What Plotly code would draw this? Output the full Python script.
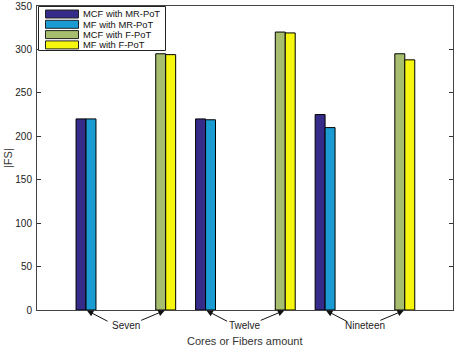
import plotly.graph_objects as go

groups = ["Seven", "Twelve", "Nineteen"]
mr_pos = [1, 4, 7]
f_pos = [3, 6, 9]
label_pos = [2, 5, 8]

mcf_mr = [220, 220, 225]
mf_mr = [220, 219, 210]
mcf_f = [295, 320, 295]
mf_f = [294, 319, 288]

series_names = ["MCF with MR-PoT", "MF with MR-PoT", "MCF with F-PoT", "MF with F-PoT"]
colors = ["#342C88", "#1A9CD3", "#A6BE6E", "#F6F60E"]
yticks = [0, 50, 100, 150, 200, 250, 300, 350]

W = 0.25
fig = go.Figure()
specs = [
    (mr_pos, mcf_mr, -W),
    (mr_pos, mf_mr, 0),
    (f_pos, mcf_f, -W),
    (f_pos, mf_f, 0),
]
for (xs, ys, off), name, c in zip(specs, series_names, colors):
    fig.add_trace(go.Bar(
        x=xs, y=ys, name=name, width=W, offset=off, showlegend=False,
        marker=dict(color=c, line=dict(color="black", width=1)),
    ))

font = "Liberation Sans, Arial, sans-serif"
L, R, T, B = 37, 2, 6, 37
FW, FH = 455, 347
PW, PH = FW - L - R, FH - T - B

def px(xp):
    return (xp - L) / PW

def py(yp):
    return (FH - B - yp) / PH

annos = []
for g, xm, xl, xr in zip(groups, mr_pos, label_pos, f_pos):
    annos.append(dict(x=xl, y=0, xref="x", yref="y", text=g, showarrow=False,
                      yanchor="middle", yshift=-15,
                      font=dict(size=10, color="#222", family=font)))
    annos.append(dict(x=xm, y=0, xref="x", yref="y", ax=23, ay=12,
                      text="", showarrow=True, standoff=1,
                      arrowhead=2, arrowsize=1.3, arrowwidth=1, arrowcolor="#111"))
    annos.append(dict(x=xr, y=0, xref="x", yref="y", ax=-26, ay=11,
                      text="", showarrow=True, standoff=1,
                      arrowhead=2, arrowsize=1.3, arrowwidth=1, arrowcolor="#111"))

# axis titles
annos.append(dict(x=0.5, y=0, xref="paper", yref="paper", yanchor="middle",
                  yshift=-(341 - (FH - B)), text="Cores or Fibers amount",
                  showarrow=False, font=dict(size=11, color="#333", family=font)))
annos.append(dict(x=0, y=0.5, xref="paper", yref="paper", xanchor="center",
                  xshift=-(L - 8), text="|FS|", textangle=-90,
                  showarrow=False, font=dict(size=11, color="#333", family=font)))

# manual legend
shapes = [dict(type="rect", xref="paper", yref="paper",
               x0=px(38.5), x1=px(165.5), y0=py(50.5), y1=py(6.5),
               line=dict(color="#222", width=1), fillcolor="white", layer="above")]
row_y = [14, 24.3, 34.6, 44.9]
for name, c, yc in zip(series_names, colors, row_y):
    shapes.append(dict(type="rect", xref="paper", yref="paper",
                       x0=px(45.5), x1=px(78.5), y0=py(yc + 4), y1=py(yc - 4),
                       line=dict(color="#222", width=1), fillcolor=c, layer="above"))
    annos.append(dict(x=px(81), y=py(yc), xref="paper", yref="paper",
                      xanchor="left", yanchor="middle", text=name, showarrow=False,
                      font=dict(size=9.4, color="#111", family=font)))

fig.update_layout(
    width=FW, height=FH,
    margin=dict(l=L, r=R, t=T, b=B),
    paper_bgcolor="white", plot_bgcolor="white",
    font=dict(family=font, size=10, color="#222"),
    barmode="overlay",
    showlegend=False,
    annotations=annos,
    shapes=shapes,
    xaxis=dict(range=[-0.23, 10.21], showticklabels=False, ticks="",
               showline=True, mirror=True, linecolor="#444", linewidth=1,
               showgrid=False, zeroline=False, automargin=False),
    yaxis=dict(range=[0, 350], tickvals=yticks, ticks="inside", ticklen=4,
               tickcolor="#333", mirror="ticks", showline=True, linecolor="#444",
               linewidth=1, showgrid=False, zeroline=False, automargin=False,
               ticklabeloverflow="allow",
               tickfont=dict(size=10, family=font), ticklabelstandoff=2),
)

fig.write_html("out.html", config={"displayModeBar": False},
               post_script="document.body.style.margin='0';")
